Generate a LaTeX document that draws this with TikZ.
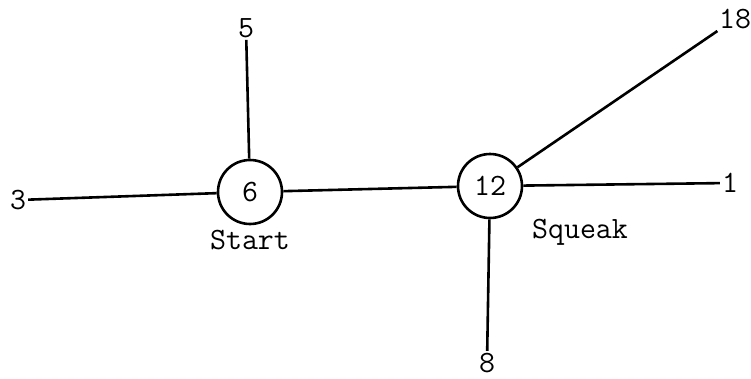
\documentclass[tikz,border=0pt]{standalone}
\begin{document}
\begin{tikzpicture}[x=1pt,y=-1pt,
  every node/.style={font=\ttfamily\fontsize{31}{34}\selectfont},
  vert/.style={circle,draw,line width=2.6pt,minimum size=64pt,inner sep=0pt},
  leaf/.style={inner sep=2pt},
  edge/.style={line width=2.6pt}]
\useasboundingbox (0,0) rectangle (751,378);
\node[vert] (A) at (250,192) {6};
\node[vert] (B) at (490,186) {12};
\node[leaf] (n3) at (18,200) {3};
\node[leaf] (n5) at (246,28) {5};
\node[leaf] (n18) at (735,19) {18};
\node[leaf] (n1) at (730,183) {1};
\node[leaf] (n8) at (487,363) {8};
\node (start) at (250,240) {Start};
\node (squeak) at (580,232) {Squeak};
\draw[edge] (n3) -- (A);
\draw[edge] (n5) -- (A);
\draw[edge] (A) -- (B);
\draw[edge] (B) -- (n18);
\draw[edge] (B) -- (n1);
\draw[edge] (B) -- (n8);
\end{tikzpicture}
\end{document}
